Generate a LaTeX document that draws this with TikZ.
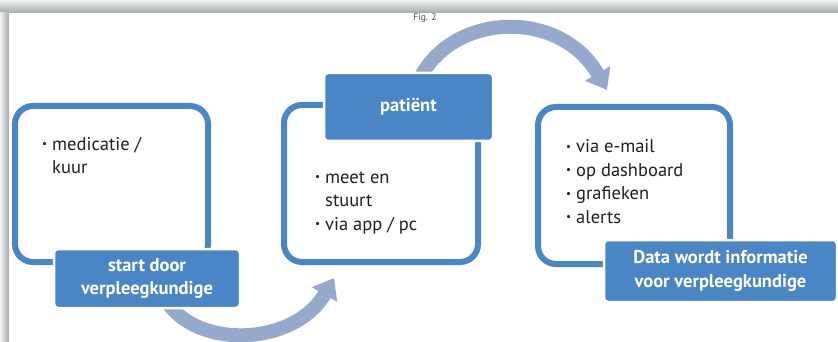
\documentclass[tikz,border=0pt]{standalone}
\usepackage{fontspec}
\usepackage{graphicx}
\setmainfont{PT Sans}
\usetikzlibrary{arrows.meta}

\definecolor{boxblue}{HTML}{4A85C5}
\definecolor{flowblue}{HTML}{94A9CB}
\definecolor{bodytext}{HTML}{231F20}
\definecolor{shadedark}{HTML}{A4A8AA}
\definecolor{shadelight}{HTML}{F2F3F3}

\newcommand{\dotmark}{\raisebox{0.28ex}{\scalebox{0.6}{\textbullet}}}

\tikzset{
  frame/.style={draw=boxblue, line width=6pt, rounded corners=18pt, fill=white},
  tag/.style={fill=boxblue, draw=white, line width=2.5pt, rounded corners=4pt,
    text=white, font=\bfseries\fontsize{18.5}{23.5}\selectfont, align=center,
    inner sep=0pt},
  items/.style={anchor=base west, text=bodytext, inner sep=0pt,
    font=\fontsize{18.5}{23.5}\selectfont},
  flow/.style={draw=flowblue, line width=14pt,
    -{Triangle[length=19pt, width=28pt]}},
}

\begin{document}
\begin{tikzpicture}[x=1pt, y=-1pt]
  \useasboundingbox (0,0) rectangle (838,342);
  \fill[white] (0,0) rectangle (838,342);

  % page edge shadow
  \shade[top color=shadelight, bottom color=shadedark] (0,0) rectangle (838,13);
  \shade[left color=shadelight, right color=shadedark] (0,13) rectangle (9,342);
  \fill[white] (9,13) rectangle (838,342);

  \node[text=black!70, font=\fontsize{9.5}{10}\selectfont] (fig) at (425,18) {Fig. 2};

  % flow arrows between the three stages
  \coordinate (arrAstart) at (166,300);
  \coordinate (arrAend) at (334,278);
  \coordinate (arrBstart) at (419,80);
  \coordinate (arrBend) at (607,90);
  \draw[flow] (arrAstart) .. controls (196,350) and (295,346) .. (arrAend);
  \draw[flow] (arrBstart) .. controls (452,12) and (560,8) .. (arrBend);

  % stage frames
  \node[frame, minimum width=193pt, minimum height=156pt] (box1) at (111.5,184) {};
  \node[frame, minimum width=194pt, minimum height=157pt] (box2) at (381,183.5) {};
  \node[frame, minimum width=192pt, minimum height=157pt] (box3) at (634,185.5) {};

  % stage titles
  \node[tag, minimum width=186pt, minimum height=59pt] (tag1) at (147,278.5)
    {start door\\verpleegkundige};
  \node[tag, minimum width=169pt, minimum height=68pt] (tag2) at (408.5,107)
    {patiënt};
  \node[tag, minimum width=233pt, minimum height=62pt] (tag3) at (720.5,271)
    {Data wordt informatie\\voor verpleegkundige};

  % stage contents
  \node[items] (list1) at (42,150) {%
    \begin{tabular}[t]{@{}l@{\hspace{5pt}}l@{}}
      \dotmark & medicatie /\\
               & kuur
    \end{tabular}};
  \node[items] (list2) at (315,183) {%
    \begin{tabular}[t]{@{}l@{\hspace{5pt}}l@{}}
      \dotmark & meet en\\
               & stuurt\\
      \dotmark & via app / pc
    \end{tabular}};
  \node[items] (list3) at (566,153) {%
    \begin{tabular}[t]{@{}l@{\hspace{5pt}}l@{}}
      \dotmark & via e-mail\\
      \dotmark & op dashboard\\
      \dotmark & grafieken\\
      \dotmark & alerts
    \end{tabular}};
\end{tikzpicture}
\end{document}
